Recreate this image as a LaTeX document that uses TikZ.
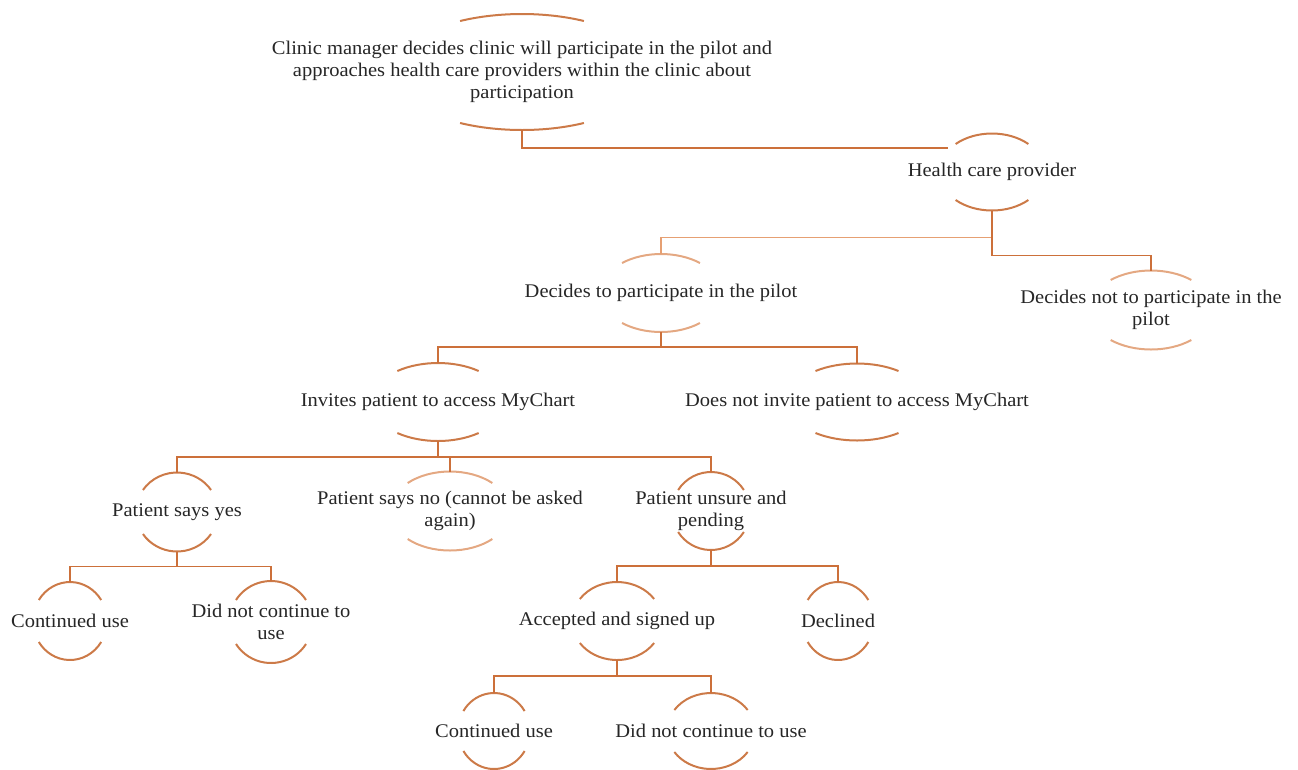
\documentclass[tikz,border=0pt]{standalone}
\usepackage{fontspec}
\setmainfont[FakeStretch=1.06]{Liberation Serif}
\usetikzlibrary{calc}
\definecolor{ArcOrange}{RGB}{204,122,72}
\definecolor{ArcLight}{RGB}{228,168,130}
\definecolor{LinkOrange}{RGB}{204,112,58}
\definecolor{LinkLight}{RGB}{230,160,115}

% two arcs (top and bottom) of an ellipse round a text node
% #1 style, #2 node name, #3 x radius, #4 y radius, #5 half height of the text band
\newcommand{\ovalpair}[5][arc]{%
  \pgfmathsetmacro{\tz}{asin(#5/#4)}%
  \draw[#1] ($(#2)+(180+\tz:#3 and #4)$)
    arc[start angle=180+\tz, end angle=360-\tz, x radius=#3, y radius=#4];
  \draw[#1] ($(#2)+(\tz:#3 and #4)$)
    arc[start angle=\tz, end angle=180-\tz, x radius=#3, y radius=#4];
  \coordinate (#2-t) at ($(#2)+(0,-#4)$);
  \coordinate (#2-b) at ($(#2)+(0,#4)$);
}

\begin{document}
\begin{tikzpicture}[x=0.75pt,y=-0.75pt,
    txt/.style={align=center,inner sep=0pt,text=black!85,
                font=\fontsize{14.5}{16.5}\selectfont},
    arc/.style={ArcOrange,line width=1.5pt},
    arclt/.style={ArcLight,line width=1.5pt},
    link/.style={LinkOrange,line width=1.1pt},
    linklt/.style={LinkLight,line width=1.3pt}
  ]
  \useasboundingbox (0,0) rectangle (1298,769);

  % level 0
  \node[txt] (clinic) at (522,72)
    {Clinic manager decides clinic will participate in the pilot and\\
     approaches health care providers within the clinic about\\
     participation};
  % level 1
  \node[txt] (hcp) at (992,172) {Health care provider};
  % level 2
  \node[txt] (dec) at (661,293) {Decides to participate in the pilot};
  \node[txt] (decnot) at (1151,310) {Decides not to participate in the\\pilot};
  % level 3
  \node[txt] (inv) at (438,402) {Invites patient to access MyChart};
  \node[txt] (noinv) at (857,402) {Does not invite patient to access MyChart};
  % level 4
  \node[txt] (yes) at (177,512) {Patient says yes};
  \node[txt] (no) at (450,511) {Patient says no (cannot be asked\\again)};
  \node[txt] (unsure) at (711,511) {Patient unsure and\\pending};
  % level 5
  \node[txt] (cont1) at (70,621) {Continued use};
  \node[txt] (didnot1) at (271,622) {Did not continue to\\use};
  \node[txt] (acc) at (617,621) {Accepted and signed up};
  \node[txt] (decl) at (838,621) {Declined};
  % level 6
  \node[txt] (cont2) at (494,731) {Continued use};
  \node[txt] (didnot2) at (711,731) {Did not continue to use};

  \ovalpair{clinic}{130}{58}{51}
  \ovalpair{hcp}{53}{38.5}{28}
  \ovalpair[arclt]{dec}{61}{39}{30}
  \ovalpair[arclt]{decnot}{62}{39.5}{30}
  \ovalpair{inv}{67}{39}{31}
  \ovalpair{noinv}{70}{38.5}{31}
  \ovalpair{yes}{41}{39.5}{22}
  \ovalpair[arclt]{no}{60}{39.5}{28}
  \ovalpair{unsure}{39}{39}{21}
  \ovalpair{cont1}{37}{39}{21}
  \ovalpair{didnot1}{41.5}{41}{22}
  \ovalpair{acc}{45}{39}{22}
  \ovalpair{decl}{36}{39}{21}
  \ovalpair{cont2}{36}{38}{20}
  \ovalpair{didnot2}{44}{38}{21}

  \coordinate (hcp-in) at (948,148);

  % connectors
  \draw[link] (clinic-b) |- (hcp-in);
  \draw[linklt] (hcp-b) -- ++(0,27) -| (dec-t);
  \draw[link] (hcp-b) -- ++(0,45) -| (decnot-t);
  \draw[link] (dec-b) -- ++(0,15) -| (inv-t);
  \draw[link] (dec-b) -- ++(0,15) -| (noinv-t);
  \draw[link] (inv-b) -- ++(0,16) -| (yes-t);
  \draw[link] (inv-b) -- ++(0,16) -| (no-t);
  \draw[link] (inv-b) -- ++(0,16) -| (unsure-t);
  \draw[link] (yes-b) -- ++(0,15) -| (cont1-t);
  \draw[link] (yes-b) -- ++(0,15) -| (didnot1-t);
  \draw[link] (unsure-b) -- ++(0,16) -| (acc-t);
  \draw[link] (unsure-b) -- ++(0,16) -| (decl-t);
  \draw[link] (acc-b) -- ++(0,16) -| (cont2-t);
  \draw[link] (acc-b) -- ++(0,16) -| (didnot2-t);
\end{tikzpicture}
\end{document}
